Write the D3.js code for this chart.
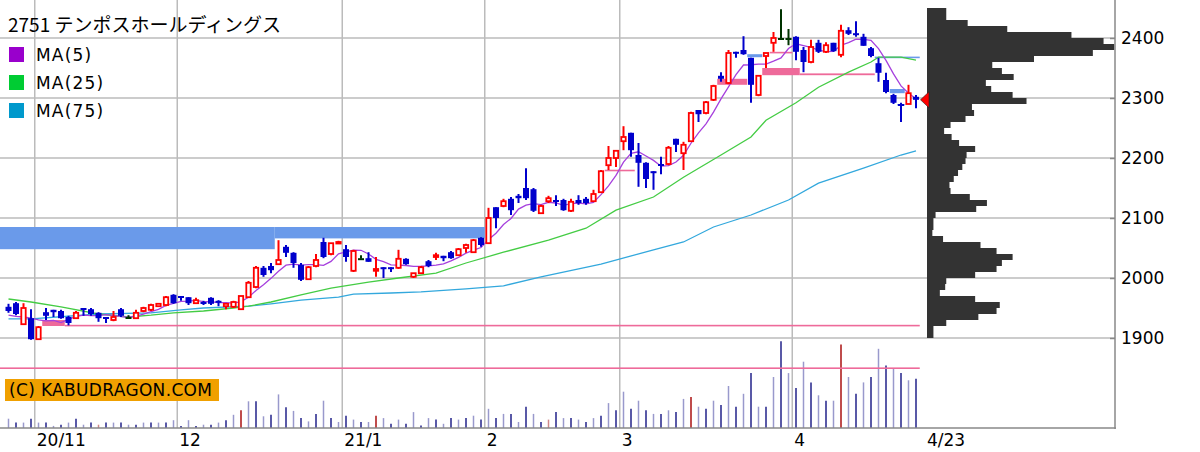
<!DOCTYPE html>
<html lang="ja">

<head>
    <meta charset="UTF-8">
    <title>2751 テンポスホールディングス</title>
    <script src="https://d3js.org/d3.v7.min.js"></script>
    <style>
        body { margin: 0; background: #fff; }
        svg { display: block; }
    </style>
</head>

<body>
    <script>

        var title = "2751 テンポスホールディングス";

        // daily candles, 2020/10/27 .. 2021/4/23
        var opens = [1952,1958,1923,1933,1898,1943,1947,1945,1935,1933,
            1950,1948,1942,1935,1930,1948,1935,1933,1945,1947,
            1953,1955,1972,1970,1968,1958,1960,1967,1962,1953,
            1952,1948,1968,1985,2017,2020,2023,2052,2042,2022,
            1998,2020,2060,2040,2058,2048,2012,2033,2033,2012,
            2018,2018,2017,2032,2002,2008,2028,2035,2037,2043,
            2038,2050,2043,2067,2058,2118,2120,2132,2137,2150,
            2148,2108,2128,2130,2130,2112,2130,2132,2128,2143,
            2188,2200,2228,2242,2205,2192,2178,2190,2190,2232,
            2208,2228,2280,2275,2297,2337,2325,2377,2380,2367,
            2305,2370,2392,2400,2400,2402,2380,2360,2392,2377,
            2392,2372,2413,2408,2402,2383,2358,2330,2305,2290,
            2290,2302];
        var highs = [1957,1960,1958,1948,1920,1950,1947,1947,1937,1945,
            1950,1950,1943,1935,1945,1950,1938,1947,1952,1957,
            1958,1970,1973,1970,1968,1967,1962,1968,1963,1958,
            1962,1970,1995,2020,2020,2025,2063,2055,2043,2025,
            2020,2040,2067,2058,2062,2055,2047,2038,2043,2035,
            2018,2018,2047,2033,2008,2020,2030,2042,2037,2045,
            2050,2057,2065,2068,2117,2118,2132,2135,2140,2183,
            2150,2122,2137,2138,2132,2132,2138,2135,2147,2180,
            2220,2212,2253,2242,2225,2193,2178,2202,2220,2232,
            2227,2277,2280,2295,2322,2343,2380,2377,2403,2367,
            2338,2375,2410,2448,2415,2403,2385,2397,2397,2393,
            2392,2422,2418,2428,2407,2385,2367,2342,2307,2292,
            2322,2305];
        var lows = [1942,1938,1922,1897,1897,1930,1935,1932,1921,1932,
            1937,1937,1927,1925,1928,1935,1933,1932,1943,1945,
            1952,1953,1957,1962,1955,1957,1955,1955,1953,1948,
            1950,1947,1967,1983,2002,2008,2022,2035,2017,1995,
            1997,2018,2033,2038,2058,2027,2010,2032,2027,2002,
            2000,2010,2015,2022,2000,2007,2018,2030,2028,2032,
            2037,2042,2042,2052,2057,2083,2118,2105,2125,2130,
            2110,2107,2125,2120,2112,2110,2122,2122,2127,2142,
            2180,2185,2213,2202,2152,2150,2147,2173,2188,2210,
            2180,2227,2260,2273,2295,2327,2323,2367,2372,2292,
            2303,2350,2377,2398,2388,2363,2343,2358,2375,2375,
            2377,2368,2405,2402,2387,2368,2327,2308,2290,2260,
            2290,2283];
        var closes = [1945,1940,1950,1898,1918,1937,1943,1933,1925,1942,
            1947,1940,1933,1933,1935,1937,1935,1942,1950,1955,
            1957,1968,1958,1967,1958,1963,1957,1957,1960,1957,
            1960,1970,1992,2017,2005,2013,2030,2042,2025,1997,
            2018,2030,2035,2058,2060,2035,2045,2033,2027,2015,
            2017,2017,2032,2023,2008,2018,2020,2038,2033,2033,
            2048,2055,2063,2055,2100,2100,2128,2113,2133,2133,
            2112,2120,2133,2127,2113,2127,2125,2125,2140,2178,
            2200,2212,2235,2213,2192,2165,2175,2187,2217,2222,
            2222,2275,2273,2293,2320,2332,2375,2375,2373,2322,
            2337,2375,2400,2400,2400,2377,2360,2385,2377,2388,
            2378,2412,2407,2405,2387,2370,2342,2310,2292,2287,
            2308,2297];

        // volume (thousand shares)
        var volumes = [31,18,18,31,18,18,7,11,18,31,
            11,18,11,18,18,18,11,11,18,18,
            18,18,26,7,26,7,11,11,18,26,
            44,59,89,89,39,44,112,69,57,33,
            22,47,91,33,20,41,28,20,20,41,
            33,14,28,14,53,8,33,28,14,33,
            28,33,41,28,64,33,47,47,20,71,
            47,20,28,53,33,33,28,20,33,41,
            83,59,121,64,91,59,47,47,59,53,
            97,103,71,64,91,77,140,71,114,183,
            71,71,170,289,183,133,221,152,109,91,
            91,278,170,114,152,170,264,208,197,183,
            159,164];
        var volRed = [12, 31, 49, 72, 91, 111];

        // moving averages
        var ma5Lead = [1938, 1936, 1935, 1933];
        var ma25Idx = [0,3,7,12,16,19,22,26,30,32,35,39,43,48,52,57,61,66,72,77,81,86,90,95,99,101,105,108,112,115,116,119,121];
        var ma25Val = [1965,1960,1952,1940,1935,1938,1942,1945,1950,1953,1960,1972,1983,1993,2000,2008,2025,2043,2063,2083,2113,2135,2168,2205,2235,2263,2292,2318,2343,2360,2368,2368,2363];
        var ma75Idx = [0,3,12,19,23,26,32,35,39,44,46,51,55,61,66,71,79,86,90,94,99,104,108,114,119,121];
        var ma75Val = [1932,1932,1940,1942,1947,1950,1953,1957,1963,1968,1973,1975,1977,1982,1987,2002,2023,2047,2060,2085,2105,2130,2158,2183,2205,2212];

        // price gaps (windows)
        var gapFrom = [-1, 36, 5, 8, -1, 80, 95, 99, 101, 106, 102, 116, 118, 119];
        var gapTo   = [36, 64, 8, 122, 122, 84, 99, 101, 106, 116, 105, 122, 120, 120];
        var gapLo   = [2048, 2066, 1920, 1920, 1849, 2178, 2322, 2368, 2338, 2338, 2375, 2367, 2308, 2288];
        var gapHi   = [2085, 2085, 1930, 1922, 1851, 2180.5, 2332, 2373, 2350, 2341, 2377, 2369, 2315, 2290];
        var gapUp   = [false, false, true, true, true, true, true, false, true, true, true, false, false, false];

        // volume by price, 10 yen bins from 1900
        var profLow = d3.range(1900, 2450, 10);
        var profVol = [60,60,180,480,650,680,450,120,170,180,
            450,650,700,800,650,500,150,50,60,60,
            80,460,560,400,220,210,250,290,330,360,
            370,450,300,230,160,220,360,440,420,930,
            800,600,550,810,700,610,1000,1550,1750,1650,
            1350,750,380,180,180];

        var priceTicks = [1900, 2000, 2100, 2200, 2300, 2400];
        var monthIdx = [4, 23, 45, 64, 82, 105];
        var monthLabels = ["20/11", "12", "21/1", "2", "3", "4"];
        var lastLabel = "4/23";

        var legendNames = ["MA(5)", "MA(25)", "MA(75)"];
        var legendColors = ["#9900cc", "#00cc33", "#0099cc"];
        var lineColors = ["#a640dd", "#44cc44", "#33a8dd"];

        var W = 1200, H = 452;
        var svg = d3.select("body").append("svg")
            .attr("width", W)
            .attr("height", H)
            .style("font-family", "'DejaVu Sans', sans-serif");

        var x = d3.scaleLinear().domain([0, closes.length - 1]).range([8.5, 916]);
        var y = d3.scaleLinear().domain([1900, 2400]).range([338, 38]);
        var yVol = d3.scaleLinear().domain([0, 300]).range([428, 338]);
        var wProf = d3.scaleLinear().domain([0, 1000]).range([0, 107]);
        var step = x(1) - x(0);
        var plotRight = 1115, baseY = 428;

        // grid
        svg.append("g").selectAll("line")
            .data(priceTicks)
            .enter().append("line")
            .attr("x1", 0).attr("x2", plotRight)
            .attr("y1", function (d) { return y(d); })
            .attr("y2", function (d) { return y(d); })
            .attr("stroke", "#cccccc")
            .attr("stroke-width", 2);

        svg.append("g").selectAll("line")
            .data(monthIdx)
            .enter().append("line")
            .attr("x1", function (d) { return x(d - 0.5); })
            .attr("x2", function (d) { return x(d - 0.5); })
            .attr("y1", 0).attr("y2", baseY)
            .attr("stroke", "#bbbbbb")
            .attr("stroke-width", 1.5);

        // volume
        svg.append("g").selectAll("line")
            .data(volumes)
            .enter().append("line")
            .attr("x1", function (d, i) { return x(i); })
            .attr("x2", function (d, i) { return x(i); })
            .attr("y1", yVol(0))
            .attr("y2", function (d) { return yVol(d); })
            .attr("stroke-width", 1.5)
            .attr("stroke", function (d, i) {
                var red = volRed.indexOf(i) >= 0;
                if (i % 2 == 0) return red ? "#d08888" : "#9999cc";
                return red ? "#aa1111" : "#22228a";
            });

        // gaps
        svg.append("g").selectAll("rect")
            .data(gapFrom)
            .enter().append("rect")
            .attr("x", function (d) { return Math.max(0, x(d) - step / 2); })
            .attr("width", function (d, i) {
                var x0 = Math.max(0, x(d) - step / 2);
                return Math.min(x(gapTo[i]) - step / 2, 920) - x0;
            })
            .attr("y", function (d, i) { return y(gapHi[i]); })
            .attr("height", function (d, i) { return Math.max(1.6, y(gapLo[i]) - y(gapHi[i])); })
            .attr("fill", function (d, i) { return gapUp[i] ? "#ee6a9a" : "#6a9aea"; });

        // moving averages
        var ma5 = closes.map(function (c, i) {
            if (i < 4) return ma5Lead[i];
            return d3.mean(closes.slice(i - 4, i + 1));
        });

        var line = d3.line()
            .x(function (d) { return x(d[0]); })
            .y(function (d) { return y(d[1]); });

        var maSeries = [
            ma75Idx.map(function (d, i) { return [d, ma75Val[i]]; }),
            ma25Idx.map(function (d, i) { return [d, ma25Val[i]]; }),
            ma5.map(function (d, i) { return [i, d]; })
        ];
        var maColors = [lineColors[2], lineColors[1], lineColors[0]];

        svg.append("g").selectAll("path")
            .data(maSeries)
            .enter().append("path")
            .attr("d", line)
            .attr("fill", "none")
            .attr("stroke", function (d, i) { return maColors[i]; })
            .attr("stroke-width", 1.3);

        // candles
        var candles = svg.append("g").selectAll("g")
            .data(closes)
            .enter().append("g");

        function candleColor(i) {
            if (closes[i] > opens[i]) return "#ff0000";
            if (closes[i] < opens[i]) return "#0000cc";
            return "#003300";
        }

        candles.append("line")
            .attr("x1", function (d, i) { return x(i); })
            .attr("x2", function (d, i) { return x(i); })
            .attr("y1", function (d, i) { return y(highs[i]); })
            .attr("y2", function (d, i) { return y(lows[i]); })
            .attr("stroke", function (d, i) { return candleColor(i); })
            .attr("stroke-width", 2);

        candles.append("rect")
            .attr("x", function (d, i) { return closes[i] > opens[i] ? x(i) - 2.2 : x(i) - 3; })
            .attr("width", function (d, i) { return closes[i] > opens[i] ? 4.4 : 6; })
            .attr("y", function (d, i) { return y(Math.max(opens[i], closes[i])); })
            .attr("height", function (d, i) {
                var h = Math.abs(y(opens[i]) - y(closes[i]));
                return closes[i] > opens[i] ? Math.max(h, 1.5) : Math.max(h, 2);
            })
            .attr("fill", function (d, i) { return closes[i] > opens[i] ? "#ffffff" : candleColor(i); })
            .attr("stroke", function (d, i) { return closes[i] > opens[i] ? "#ff0000" : "none"; })
            .attr("stroke-width", 1.8);

        // volume profile
        svg.append("g").selectAll("rect")
            .data(profVol)
            .enter().append("rect")
            .attr("x", 927)
            .attr("y", function (d, i) { return y(profLow[i] + 10); })
            .attr("width", function (d) { return wProf(d); })
            .attr("height", function (d, i) { return y(profLow[i]) - y(profLow[i] + 10); })
            .attr("fill", "#333333");

        // last price marker
        var last = closes[closes.length - 1];
        svg.append("path")
            .attr("d", "M" + 920.5 + "," + y(last) + "L" + 929 + "," + (y(last) - 8) + "L" + 929 + "," + (y(last) + 8) + "Z")
            .attr("fill", "#ff0000")
            .attr("stroke", "#222")
            .attr("stroke-width", 0.6);

        // axes
        svg.append("line")
            .attr("x1", plotRight).attr("x2", plotRight)
            .attr("y1", 0).attr("y2", baseY + 1)
            .attr("stroke", "#888").attr("stroke-width", 1.5);
        svg.append("line")
            .attr("x1", 0).attr("x2", plotRight + 1)
            .attr("y1", baseY).attr("y2", baseY)
            .attr("stroke", "#888").attr("stroke-width", 1.5);

        var yAxis = svg.append("g")
            .attr("transform", "translate(" + plotRight + ",0)")
            .call(d3.axisRight(y).tickValues(priceTicks).tickSize(-5).tickPadding(6).tickFormat(d3.format("d")));
        yAxis.select(".domain").remove();
        yAxis.selectAll(".tick line").attr("stroke", "#888").attr("stroke-width", 1.5);
        yAxis.selectAll("text")
            .attr("font-family", "'DejaVu Sans', sans-serif")
            .attr("font-size", 17)
            .attr("fill", "#000");

        svg.append("g").selectAll("text")
            .data(monthLabels)
            .enter().append("text")
            .attr("x", function (d, i) { return x(monthIdx[i] - 0.5) + 2; })
            .attr("y", 446)
            .attr("font-size", 17)
            .text(function (d) { return d; });
        svg.append("text")
            .attr("x", 927).attr("y", 446)
            .attr("font-size", 17)
            .text(lastLabel);

        // title and legend
        svg.append("text")
            .attr("x", 8).attr("y", 32)
            .attr("font-family", "'Noto Sans CJK JP', sans-serif")
            .attr("font-size", 19)
            .text(title);

        var legend = svg.append("g").selectAll("g")
            .data(legendNames)
            .enter().append("g")
            .attr("transform", function (d, i) { return "translate(9," + (47 + i * 28) + ")"; });
        legend.append("rect")
            .attr("width", 15).attr("height", 15)
            .attr("fill", function (d, i) { return legendColors[i]; });
        legend.append("text")
            .attr("x", 27).attr("y", 14)
            .attr("font-size", 17)
            .attr("letter-spacing", 1.2)
            .text(function (d) { return d; });

        // watermark
        svg.append("rect")
            .attr("x", 5).attr("y", 379)
            .attr("width", 214).attr("height", 22)
            .attr("fill", "#f0a000");
        svg.append("text")
            .attr("x", 9).attr("y", 396)
            .attr("font-size", 17)
            .attr("textLength", 203)
            .attr("lengthAdjust", "spacing")
            .text("(C) KABUDRAGON.COM");

    </script>

</body>

</html>
